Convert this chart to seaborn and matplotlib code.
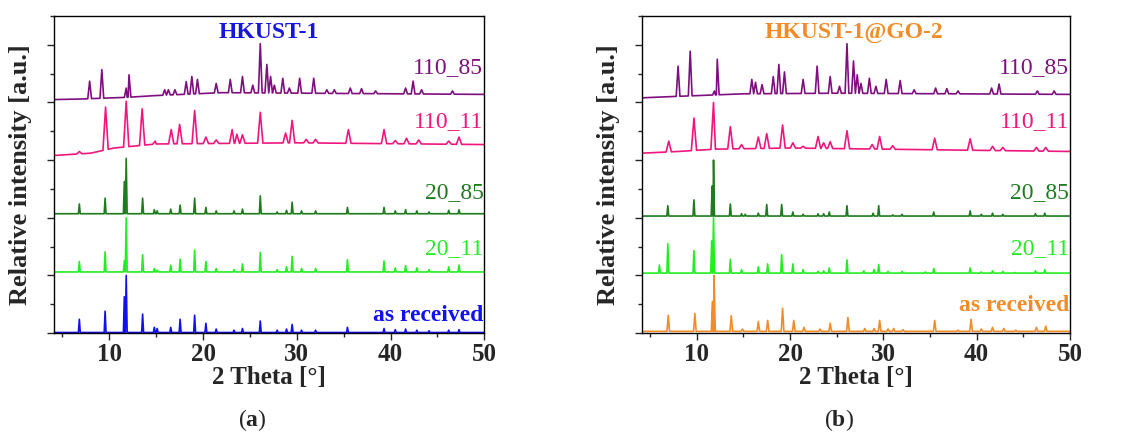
import numpy as np
import matplotlib
matplotlib.use('Agg')
import matplotlib.pyplot as plt
import seaborn as sns
from matplotlib.ticker import MultipleLocator

sns.set_style('ticks')
plt.rcParams['font.family'] = ['Liberation Serif', 'DejaVu Serif']
plt.rcParams['mathtext.fontset'] = 'custom'
plt.rcParams['mathtext.rm'] = 'Liberation Serif'
plt.rcParams['mathtext.bf'] = 'Liberation Serif:bold'

# ---------- data (intensity above each trace's own offset) ----------
# panel (a) HKUST-1, sharp patterns share the same peak list
a_pos = [6.8, 9.55, 11.6, 11.8, 13.55, 14.8, 15.1, 16.55, 17.55, 19.1, 20.3, 21.4, 23.3, 24.2,
         26.1, 27.9, 28.9, 29.5, 30.5, 32.0, 35.4, 39.3, 40.5, 41.6, 42.8, 44.1, 46.2, 47.3]
a_asrec_int = [0.24, 0.38, 0.63, 1.0, 0.33, 0.1, 0.08, 0.1, 0.24, 0.31, 0.17, 0.07, 0.05, 0.08,
               0.21, 0.05, 0.07, 0.15, 0.05, 0.05, 0.1, 0.08, 0.06, 0.07, 0.05, 0.04, 0.05, 0.06]
a_20_11_int = [0.24, 0.41, 0.25, 1.0, 0.36, 0.12, 0.09, 0.18, 0.28, 0.44, 0.24, 0.12, 0.1, 0.2,
               0.4, 0.1, 0.15, 0.33, 0.12, 0.12, 0.27, 0.25, 0.13, 0.17, 0.13, 0.1, 0.15, 0.18]
a_20_85_int = [0.24, 0.34, 0.63, 1.03, 0.34, 0.14, 0.12, 0.15, 0.22, 0.34, 0.18, 0.12, 0.12, 0.15,
               0.38, 0.1, 0.13, 0.27, 0.12, 0.12, 0.18, 0.18, 0.12, 0.14, 0.12, 0.1, 0.13, 0.14]
a_asrec_base = ([4.1, 50], [0.01, 0.01])
a_20_11_base = ([4.1, 50], [0.06, 0.06])
a_20_85_base = ([4.1, 50], [0.07, 0.07])

a_110_11_pos = [6.8, 9.6, 11.8, 13.5, 14.9, 16.6, 17.5, 19.1, 20.3, 21.4, 23.1, 23.6, 24.2, 26.1,
                28.8, 29.5, 31.0, 32.0, 35.5, 39.3, 40.5, 41.7, 43.0, 46.2, 47.3]
a_110_11_int = [0.15, 0.92, 1.02, 0.89, 0.33, 0.53, 0.62, 0.86, 0.4, 0.35, 0.53, 0.45, 0.44, 0.83,
                0.47, 0.69, 0.36, 0.36, 0.53, 0.53, 0.34, 0.38, 0.35, 0.33, 0.4]
a_110_11_base = ([4.1, 6, 8, 10.5, 15, 30, 50], [0.08, 0.1, 0.12, 0.21, 0.28, 0.3, 0.27])

a_110_85_pos = [7.9, 9.2, 11.8, 12.1, 15.9, 16.3, 17.0, 18.2, 18.8, 19.4, 21.4, 22.9, 24.2, 25.3,
                26.1, 26.8, 27.2, 27.6, 28.5, 29.2, 30.3, 31.8, 33.2, 34.0, 35.7, 36.9, 38.4,
                41.6, 42.4, 43.3, 46.6]
a_110_85_int = [0.37, 0.57, 0.25, 0.48, 0.22, 0.22, 0.22, 0.36, 0.45, 0.4, 0.33, 0.4, 0.45, 0.3,
                1.02, 0.66, 0.45, 0.3, 0.42, 0.25, 0.42, 0.42, 0.22, 0.22, 0.25, 0.24, 0.2,
                0.25, 0.37, 0.22, 0.2]
a_110_85_base = ([4.1, 7, 12, 15, 22, 50], [0.05, 0.06, 0.09, 0.12, 0.17, 0.14])

# panel (b) HKUST-1@GO-2
b_asrec_pos = [6.95, 9.8, 11.7, 11.85, 13.7, 14.9, 16.6, 17.6, 19.2, 20.4, 21.5, 23.2, 24.3, 26.2,
               28.0, 29.0, 29.6, 30.5, 31.1, 32.1, 35.5, 38.0, 39.4, 40.5, 41.7, 42.9, 44.2, 46.4, 47.4]
b_asrec_int = [0.31, 0.34, 0.55, 1.0, 0.3, 0.07, 0.2, 0.22, 0.43, 0.22, 0.1, 0.07, 0.17, 0.27,
               0.08, 0.08, 0.22, 0.07, 0.08, 0.06, 0.22, 0.05, 0.24, 0.07, 0.1, 0.08, 0.05, 0.1, 0.12]
b_asrec_base = ([4.1, 50], [0.03, 0.03])

b_20_11_pos = [6.0, 6.9, 9.7, 11.6, 11.8, 13.6, 14.8, 16.6, 17.6, 19.1, 20.3, 21.4, 23.0, 23.6,
               24.2, 26.1, 27.9, 29.0, 29.5, 30.5, 32.0, 34.5, 35.4, 39.3, 40.5, 41.7, 42.8, 44.1,
               46.3, 47.3]
b_20_11_int = [0.18, 0.55, 0.43, 0.6, 1.0, 0.28, 0.1, 0.15, 0.2, 0.36, 0.2, 0.1, 0.07, 0.08,
               0.13, 0.27, 0.08, 0.1, 0.19, 0.07, 0.07, 0.06, 0.12, 0.13, 0.06, 0.08, 0.07, 0.05,
               0.08, 0.1]
b_20_11_base = ([4.1, 50], [0.04, 0.04])

b_20_85_pos = [6.9, 9.7, 11.65, 11.8, 13.6, 14.8, 15.2, 16.6, 17.5, 19.1, 20.3, 21.4, 23.0, 23.6,
               24.2, 26.1, 28.9, 29.5, 31.0, 32.0, 35.4, 39.3, 40.5, 41.7, 42.8, 46.3, 47.3]
b_20_85_int = [0.21, 0.31, 0.55, 1.0, 0.24, 0.07, 0.06, 0.08, 0.23, 0.23, 0.1, 0.06, 0.07, 0.07,
               0.1, 0.21, 0.08, 0.21, 0.05, 0.06, 0.1, 0.12, 0.06, 0.08, 0.06, 0.07, 0.08]
b_20_85_base = ([4.1, 50], [0.03, 0.03])

b_110_11_pos = [7.0, 9.7, 11.8, 13.6, 14.8, 16.6, 17.5, 19.2, 20.3, 21.4, 23.0, 23.6, 24.3, 26.1,
                28.8, 29.6, 31.0, 35.5, 39.3, 41.7, 42.8, 46.4, 47.4]
b_110_11_int = [0.33, 0.73, 1.0, 0.58, 0.27, 0.4, 0.46, 0.61, 0.3, 0.24, 0.41, 0.3, 0.32, 0.51,
                0.27, 0.41, 0.25, 0.38, 0.37, 0.24, 0.22, 0.22, 0.22]
b_110_11_base = ([4.1, 8, 12, 20, 50], [0.12, 0.15, 0.19, 0.21, 0.15])

b_110_85_pos = [8.0, 9.3, 11.9, 12.2, 15.9, 16.3, 17.0, 18.2, 18.8, 19.4, 21.4, 22.9, 24.3, 25.3,
                26.1, 26.8, 27.2, 27.6, 28.5, 29.2, 30.3, 31.8, 33.3, 35.6, 36.8, 38.0, 41.6,
                42.4, 46.5, 48.3]
b_110_85_int = [0.63, 0.89, 0.2, 0.75, 0.4, 0.35, 0.31, 0.45, 0.66, 0.53, 0.4, 0.63, 0.45, 0.28,
                1.02, 0.72, 0.48, 0.33, 0.42, 0.28, 0.4, 0.38, 0.22, 0.25, 0.24, 0.2, 0.25,
                0.32, 0.2, 0.2]
b_110_85_base = ([4.1, 7, 15, 25, 50], [0.08, 0.1, 0.15, 0.16, 0.14])

labels = ['as received', '20_11', '20_85', '110_11', '110_85']
colors_a = ['#1010F0', '#22EE22', '#1E7B1E', '#F0167E', '#7F0F7F']
colors_b = ['#F28C28', '#22EE22', '#1E7B1E', '#F0167E', '#7F0F7F']


def trace(pos, inten, base, hw):
    # stick pattern: every read peak drawn as a narrow spike on its baseline
    bx, by = base
    xs = list(bx)
    ys = list(by)
    for p, h in zip(pos, inten):
        for x in (p - hw, p + hw):
            xs.append(x)
            ys.append(np.interp(x, bx, by))
        xs.append(p)
        ys.append(h)
    order = np.argsort(xs, kind='stable')
    return np.asarray(xs)[order], np.asarray(ys)[order]


panel_a = [(a_pos, a_asrec_int, a_asrec_base, 0.1),
           (a_pos, a_20_11_int, a_20_11_base, 0.1),
           (a_pos, a_20_85_int, a_20_85_base, 0.1),
           (a_110_11_pos, a_110_11_int, a_110_11_base, 0.28),
           (a_110_85_pos, a_110_85_int, a_110_85_base, 0.2)]
panel_b = [(b_asrec_pos, b_asrec_int, b_asrec_base, 0.14),
           (b_20_11_pos, b_20_11_int, b_20_11_base, 0.1),
           (b_20_85_pos, b_20_85_int, b_20_85_base, 0.1),
           (b_110_11_pos, b_110_11_int, b_110_11_base, 0.28),
           (b_110_85_pos, b_110_85_int, b_110_85_base, 0.2)]

fig = plt.figure(figsize=(11.23, 4.32), dpi=100)
ax_a = fig.add_axes([0.0481, 0.229, 0.3832, 0.734])
ax_b = fig.add_axes([0.5714, 0.229, 0.3814, 0.734])

label_y_a = [0.31, 1.47, 2.44, 3.67, 4.6]
label_y_b = [0.47, 1.47, 2.44, 3.67, 4.6]

for ax, panel, cols, ly, title, tcol, tx, sub in [
        (ax_a, panel_a, colors_a, label_y_a, 'HKUST-1', '#1515E0', 27.0, 'a'),
        (ax_b, panel_b, colors_b, label_y_b, 'HKUST-1@GO-2', '#F28C28', 26.8, 'b')]:
    for i, (pos, inten, base, hw) in enumerate(panel):
        x, y = trace(pos, inten, base, hw)
        sns.lineplot(x=x, y=y + i, ax=ax, color=cols[i], lw=1.2,
                     estimator=None, sort=False)
        w = 'bold' if i == 0 else 'normal'
        ax.text(49.9, ly[i], labels[i], color=cols[i], fontsize=17, fontweight=w,
                ha='right', va='center')
    ax.text(tx, 5.22, title, color=tcol, fontsize=17, fontweight='bold',
            ha='center', va='center')
    ax.set_xlim(4.1, 50)
    ax.set_ylim(0, 5.5)
    ax.xaxis.set_major_locator(MultipleLocator(10))
    ax.xaxis.set_minor_locator(MultipleLocator(5))
    ax.yaxis.set_major_locator(MultipleLocator(1))
    ax.yaxis.set_minor_locator(MultipleLocator(0.5))
    ax.tick_params(axis='y', which='both', labelleft=False)
    ax.tick_params(which='major', length=5, width=1, direction='out')
    ax.tick_params(which='minor', length=3, width=1, direction='out')
    ax.tick_params(axis='x', labelsize=18, pad=2)
    for t in ax.get_xticklabels():
        t.set_fontweight('bold')
    for s in ax.spines.values():
        s.set_linewidth(1.0)
        s.set_color('black')
    ax.set_xlabel('2 Theta [°]', fontsize=18, fontweight='bold', labelpad=0)
    ax.set_ylabel('Relative intensity [a.u.]', fontsize=19, fontweight='bold')
    ax.yaxis.set_label_coords(-0.05, 0.5)
    bb = ax.get_position()
    fig.text(bb.x0 + bb.width * 0.46, 0.028, r'($\mathbf{%s}$)' % sub, fontsize=17,
             ha='center', va='center')

fig.savefig('out.png', dpi=100)
